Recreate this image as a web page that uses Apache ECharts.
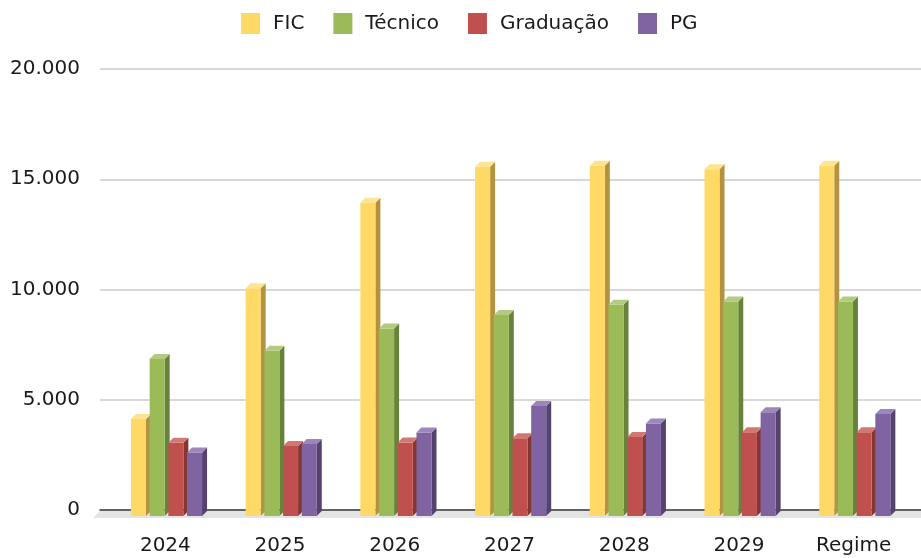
<!DOCTYPE html>
<html>
<head>
<meta charset="utf-8">
<script src="https://cdn.jsdelivr.net/npm/echarts@6/dist/echarts.min.js"></script>
<style>
html,body{margin:0;padding:0;background:#fff;}
#chart{width:921px;height:558px;}
</style>
</head>
<body>
<div id="chart"></div>
<script>
const categories = ['2024', '2025', '2026', '2027', '2028', '2029', 'Regime'];
const seriesNames = ['FIC', 'Técnico', 'Graduação', 'PG'];
const fic = [4400, 10330, 14210, 15840, 15890, 15720, 15890];
const tecnico = [7120, 7500, 8500, 9120, 9580, 9730, 9730];
const graduacao = [3320, 3170, 3330, 3530, 3580, 3800, 3800];
const pg = [2880, 3260, 3790, 4990, 4190, 4700, 4630];
const yTickValues = [0, 5000, 10000, 15000, 20000];
const yTickLabels = ['0', '5.000', '10.000', '15.000', '20.000'];

const seriesValues = [fic, tecnico, graduacao, pg];
const palette = [
  {front: '#FFD966', side: '#B39340', top: '#FFE48F'},
  {front: '#9BBB59', side: '#67823A', top: '#B2CB80'},
  {front: '#C0504D', side: '#853633', top: '#D27873'},
  {front: '#8064A2', side: '#54436E', top: '#9C86BC'}
];

function makeRender(sIdx) {
  const col = palette[sIdx];
  return function (params, api) {
    const c = api.value(0), v = api.value(1);
    const p0 = api.coord([c, 0]);
    const p1 = api.coord([c, v]);
    const band = api.size([1, 0])[0];
    const w = band * 0.131;
    const pitch = band * 0.163;
    const x = p0[0] - band * 0.30 + sIdx * pitch;
    const d = 5;
    const yTop = p1[1] + 6, yBot = p0[1] + 6;
    return {
      type: 'group',
      children: [
        {type: 'polygon', shape: {points: [[x + w, yTop], [x + w + d, yTop - d], [x + w + d, yBot - d], [x + w, yBot]]}, style: {fill: col.side}},
        {type: 'rect', shape: {x: x, y: yTop, width: w, height: yBot - yTop}, style: {fill: col.front}},
        {type: 'polygon', shape: {points: [[x, yTop], [x + w, yTop], [x + w + d, yTop - d], [x + d, yTop - d]]}, style: {fill: col.top}}
      ]
    };
  };
}

const FONT = 'DejaVu Sans';

const option = {
  backgroundColor: '#ffffff',
  animation: false,
  legend: {
    data: seriesNames,
    left: 236,
    top: 8,
    icon: 'rect',
    itemWidth: 19,
    itemHeight: 21,
    itemGap: 29,
    textStyle: {fontFamily: FONT, fontSize: 20, color: '#1a1a1a', padding: [0, 0, 0, 8]}
  },
  grid: [
    {left: 108, right: 10, top: 69, bottom: 48},
    {left: 100, right: 0, top: 69, bottom: 48}
  ],
  xAxis: [
    {
      type: 'category', gridIndex: 0, data: categories,
      axisLine: {show: false}, axisTick: {show: false}, splitLine: {show: false},
      axisLabel: {fontFamily: FONT, fontSize: 20, color: '#1a1a1a', margin: 26}
    },
    {
      type: 'value', gridIndex: 1, min: 0, max: 1,
      axisLine: {show: true, lineStyle: {color: '#3c3c3c', width: 1.5}},
      axisTick: {show: false}, axisLabel: {show: false}, splitLine: {show: false}
    }
  ],
  yAxis: [
    {type: 'value', gridIndex: 0, min: 0, max: 20000, interval: 5000, show: false, splitLine: {show: false}},
    {
      type: 'value', gridIndex: 1, min: 0, max: 20000, interval: 5000,
      axisLine: {show: false}, axisTick: {show: false},
      splitLine: {show: true, lineStyle: {color: '#cbcbcb', width: 1.5}},
      axisLabel: {
        fontFamily: FONT, fontSize: 20, color: '#1a1a1a', margin: 20,
        formatter: function (val) { const i = yTickValues.indexOf(val); return i >= 0 ? yTickLabels[i] : ''; }
      }
    }
  ],
  graphic: [
    {
      type: 'polygon', z: 1,
      shape: {points: [[100, 511], [921, 511], [921, 518], [93, 518]]},
      style: {fill: '#e4e4e4'}
    }
  ],
  series: seriesNames.map(function (name, i) {
    return {
      name: name,
      type: 'custom',
      xAxisIndex: 0,
      yAxisIndex: 0,
      z: 5,
      itemStyle: {color: palette[i].front},
      encode: {x: 0, y: 1},
      data: seriesValues[i].map(function (v, k) { return [k, v]; }),
      renderItem: makeRender(i)
    };
  })
};

const chart = echarts.init(document.getElementById('chart'), null, {renderer: 'canvas'});
chart.setOption(option);
</script>
</body>
</html>
